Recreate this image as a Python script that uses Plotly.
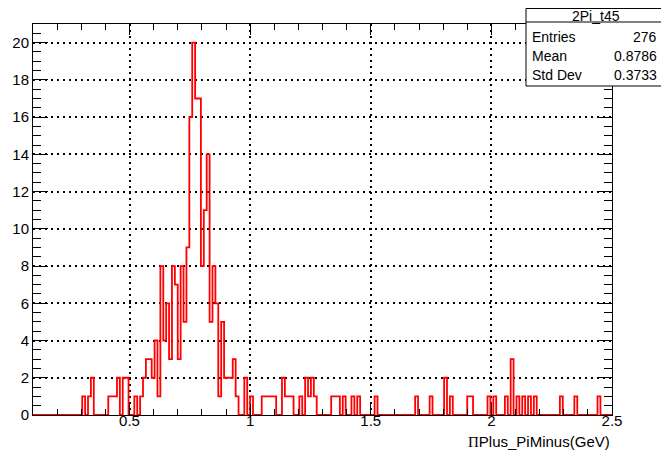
import plotly.graph_objects as go

# Histogram "2Pi_t45": 200 bins from 0.1 to 2.5 GeV
x_min = 0.1
x_max = 2.5
n_bins = 200
counts = [
    0, 0, 0, 0, 0, 0, 0, 0, 0, 0, 0, 0, 0, 0, 0, 0, 0, 1, 0, 1,
    2, 0, 0, 0, 0, 0, 1, 1, 1, 2, 0, 2, 2, 0, 0, 1, 0, 1, 2, 3,
    3, 2, 4, 1, 8, 4, 6, 3, 8, 7, 3, 8, 5, 9, 16, 20, 17, 17, 8, 11,
    14, 5, 8, 6, 1, 5, 2, 2, 2, 3, 1, 0, 0, 2, 0, 1, 0, 0, 0, 1,
    1, 1, 1, 1, 0, 0, 2, 1, 1, 1, 0, 0, 1, 0, 2, 1, 2, 1, 0, 0,
    0, 0, 0, 1, 1, 1, 0, 1, 0, 0, 1, 0, 1, 0, 0, 0, 0, 0, 1, 0,
    0, 0, 0, 0, 0, 0, 0, 0, 0, 0, 0, 0, 1, 0, 0, 0, 0, 1, 0, 0,
    0, 0, 2, 0, 1, 0, 0, 0, 0, 0, 1, 1, 0, 0, 0, 0, 0, 1, 0, 1,
    0, 0, 0, 1, 0, 3, 0, 1, 0, 1, 0, 1, 0, 1, 0, 0, 0, 0, 0, 0,
    0, 0, 1, 0, 0, 0, 0, 1, 0, 0, 0, 0, 0, 0, 0, 1, 0, 0, 0, 0,
]
x_tick_vals = [0.5, 1, 1.5, 2, 2.5]
x_tick_text = ["0.5", "1", "1.5", "2", "2.5"]
y_tick_vals = [0, 2, 4, 6, 8, 10, 12, 14, 16, 18, 20]
y_tick_text = [str(v) for v in y_tick_vals]

stats_name = "2Pi_t45"
stats_labels = ["Entries", "Mean", "Std Dev"]
stats_values = ["276", "0.8786", "0.3733"]
x_title = "<span style='font-family:Liberation Serif'>\u03a0</span>Plus_PiMinus(GeV)"

bw = (x_max - x_min) / n_bins
edges = [x_min + i * bw for i in range(n_bins + 1)]
ys = counts + [counts[-1]]

# the page body has an 8px default margin; compensate so the screen layout matches
OFF = 8
W, H = 669 - 2 * OFF, 453 - OFF
SL, SR, ST, SB = 33, 612, 24, 415   # desired plot frame in screen pixels
L, T = SL - OFF, ST - OFF
R, B = W - (SR - OFF), H - (SB - OFF)
pw, ph = W - L - R, H - T - B


def px(xs):
    # screen x pixel -> paper coordinate
    return (xs - SL) / pw


def py(ys_):
    # screen y pixel -> paper coordinate
    return (SB - ys_) / ph


fig = go.Figure()
fig.add_trace(go.Scatter(
    x=edges, y=ys, mode="lines", line_shape="hv",
    line=dict(color="#ff0000", width=1.8), hoverinfo="skip", showlegend=False,
))

font = dict(family="Liberation Sans, Arial, sans-serif", size=15, color="black")
fig.update_layout(
    width=W, height=H,
    margin=dict(l=L, r=R, t=T, b=B, autoexpand=False),
    paper_bgcolor="white", plot_bgcolor="white",
    font=font,
    showlegend=False,
    xaxis=dict(
        range=[x_min, x_max], tickvals=x_tick_vals, ticktext=x_tick_text,
        ticks="inside", ticklen=11, tickwidth=1, tickcolor="black",
        showline=True, linecolor="black", linewidth=1, mirror="ticks",
        showgrid=True, gridcolor="black", gridwidth=1.5, griddash="2px,4px",
        zeroline=False, tickfont=font, ticklabelstandoff=-8, automargin=False,
        minor=dict(dtick=0.1, tick0=0.1, ticks="inside", ticklen=6,
                   tickcolor="black", showgrid=False),
    ),
    yaxis=dict(
        range=[0, 21], tickvals=y_tick_vals, ticktext=y_tick_text,
        ticks="inside", ticklen=15, tickwidth=1, tickcolor="black",
        showline=True, linecolor="black", linewidth=1, mirror="ticks",
        showgrid=True, gridcolor="black", gridwidth=1.5, griddash="2px,4px",
        zeroline=False, tickfont=font, automargin=False,
        minor=dict(dtick=0.5, tick0=0, ticks="inside", ticklen=8,
                   tickcolor="black", showgrid=False),
    ),
)

# x-axis title (right aligned, ROOT style)
fig.add_annotation(
    x=1.0, y=py(441), xref="paper", yref="paper", xanchor="right", yanchor="middle",
    text=x_title, showarrow=False, font=font,
)

# statistics box (extends past the right edge, as in the original)
bx0, bx1 = px(526), px(675)
by_top, by_bot, by_sep = py(8.5), py(86), py(22)
fig.add_shape(type="rect", xref="paper", yref="paper", x0=bx0, x1=bx1, y0=by_bot, y1=by_top,
              line=dict(color="black", width=1), fillcolor="white", layer="above")
fig.add_shape(type="line", xref="paper", yref="paper", x0=bx0, x1=bx1, y0=by_sep, y1=by_sep,
              line=dict(color="black", width=1), layer="above")
sfont = dict(family="Liberation Sans, Arial, sans-serif", size=14, color="black")
fig.add_annotation(x=px(596), y=py(16), xref="paper", yref="paper", text=stats_name,
                   showarrow=False, xanchor="center", yanchor="middle", font=sfont)
row_y = [37, 56, 75]
for lab, val, yy in zip(stats_labels, stats_values, row_y):
    fig.add_annotation(x=px(530), y=py(yy), xref="paper", yref="paper", text=lab,
                       showarrow=False, xanchor="left", yanchor="middle", font=sfont)
    fig.add_annotation(x=px(659), y=py(yy), xref="paper", yref="paper", text=val,
                       showarrow=False, xanchor="right", yanchor="middle", font=sfont)

fig.write_html("out.html")
